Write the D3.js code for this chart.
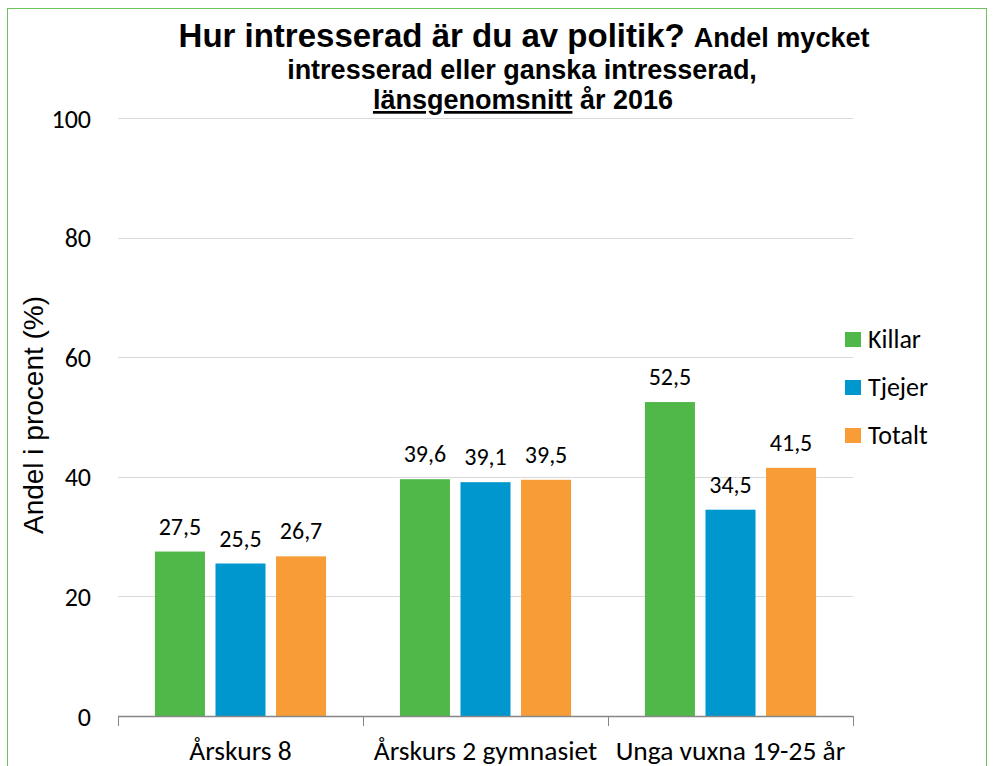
<!DOCTYPE html>
<html>
<head>
<meta charset="utf-8">
<script src="https://cdn.jsdelivr.net/npm/d3@7"></script>
<style>
  body { margin: 0; background: #fff; }
  svg { display: block; }
</style>
</head>
<body>
<div id="chart"></div>
<script>
// Data
const categories = ['Årskurs 8', 'Årskurs 2 gymnasiet', 'Unga vuxna 19-25 år'];
const seriesNames = ['Killar', 'Tjejer', 'Totalt'];
const killar = [27.5, 39.6, 52.5];
const tjejer = [25.5, 39.1, 34.5];
const totalt = [26.7, 39.5, 41.5];
const yTicks = [0, 20, 40, 60, 80, 100];
const colors = ['#50B848', '#0097CE', '#F79C36'];

const values = [killar, tjejer, totalt];
const rows = categories.map((c, i) => ({
    cat: c,
    vals: seriesNames.map((s, j) => ({ key: s, value: values[j][i], color: colors[j] }))
}));

const width = 995, height = 766;
const margin = { left: 118, right: 142, top: 118, bottom: 50 };
const calibri = 'Carlito, Lato, "Open Sans", sans-serif';
const arial = '"Liberation Sans", Arial, sans-serif';

const svg = d3.select('#chart').append('svg')
    .attr('width', width)
    .attr('height', height);

// outer border
svg.append('rect')
    .attr('x', 7.5).attr('y', 8.5)
    .attr('width', 979).attr('height', 780)
    .attr('fill', 'none')
    .attr('stroke', '#6CC35E')
    .attr('stroke-width', 1);

const x0 = d3.scaleBand()
    .domain(categories)
    .range([margin.left, width - margin.right]);

const x1 = d3.scaleBand()
    .domain(seriesNames)
    .range([0, x0.bandwidth()])
    .paddingInner(0.174)
    .paddingOuter(0.61);

const y = d3.scaleLinear()
    .domain([0, 100])
    .range([height - margin.bottom, margin.top]);

// gridlines
svg.append('g')
    .selectAll('line')
    .data(yTicks.filter(d => d > 0))
    .join('line')
    .attr('x1', margin.left).attr('x2', width - margin.right)
    .attr('y1', d => Math.round(y(d)) + 0.5).attr('y2', d => Math.round(y(d)) + 0.5)
    .attr('stroke', '#D9D9D9')
    .attr('stroke-width', 1);

// y tick labels
svg.append('g')
    .selectAll('text')
    .data(yTicks)
    .join('text')
    .attr('x', 91)
    .attr('y', d => y(d) + 9.5)
    .attr('text-anchor', 'end')
    .attr('font-family', calibri)
    .attr('font-size', 26)
    .attr('fill', '#000')
    .text(d => d);

// bars
const groups = svg.append('g')
    .selectAll('g')
    .data(rows)
    .join('g')
    .attr('transform', d => `translate(${x0(d.cat)},0)`);

groups.selectAll('rect')
    .data(d => d.vals)
    .join('rect')
    .attr('x', d => x1(d.key))
    .attr('width', x1.bandwidth())
    .attr('y', d => y(d.value))
    .attr('height', d => y(0) - y(d.value))
    .attr('fill', d => d.color);

groups.selectAll('text')
    .data(d => d.vals)
    .join('text')
    .attr('x', d => x1(d.key) + x1.bandwidth() / 2)
    .attr('y', d => y(d.value) - 17)
    .attr('text-anchor', 'middle')
    .attr('font-family', calibri)
    .attr('font-size', 24)
    .attr('fill', '#000')
    .text(d => d3.format('.1f')(d.value).replace('.', ','));

// x axis
const xAxis = svg.append('g')
    .attr('transform', `translate(0,${y(0)})`);
xAxis.append('line')
    .attr('x1', margin.left).attr('x2', width - margin.right)
    .attr('y1', 0.5).attr('y2', 0.5)
    .attr('stroke', '#868686')
    .attr('stroke-width', 1.5);
const bounds = categories.map(c => x0(c)).concat([width - margin.right]);
xAxis.selectAll('.tick')
    .data(bounds)
    .join('line')
    .attr('x1', d => Math.round(d) + 0.5).attr('x2', d => Math.round(d) + 0.5)
    .attr('y1', 0).attr('y2', 10)
    .attr('stroke', '#868686');
xAxis.selectAll('text')
    .data(categories)
    .join('text')
    .attr('x', d => x0(d) + x0.bandwidth() / 2)
    .attr('y', 44)
    .attr('text-anchor', 'middle')
    .attr('font-family', calibri)
    .attr('font-size', 27.5)
    .attr('fill', '#000')
    .text(d => d);

// y axis title
svg.append('text')
    .attr('transform', 'translate(43,415) rotate(-90)')
    .attr('text-anchor', 'middle')
    .attr('font-family', arial)
    .attr('font-size', 28)
    .attr('fill', '#000')
    .text('Andel i procent (%)');

// title
const title = svg.append('text')
    .attr('text-anchor', 'middle')
    .attr('font-family', arial)
    .attr('font-weight', 'bold')
    .attr('fill', '#000');
const t1 = title.append('tspan').attr('x', 524).attr('y', 47);
t1.append('tspan').attr('font-size', 33).text('Hur intresserad är du av politik? ');
t1.append('tspan').attr('font-size', 27).text('Andel mycket');
title.append('tspan').attr('x', 522).attr('y', 79).attr('font-size', 27)
    .text('intresserad eller ganska intresserad,');
const t3 = title.append('tspan').attr('x', 523).attr('y', 109).attr('font-size', 27);
t3.append('tspan').attr('text-decoration', 'underline').text('länsgenomsnitt');
t3.append('tspan').text(' år 2016');

// legend
const legend = svg.append('g')
    .selectAll('g')
    .data(seriesNames)
    .join('g')
    .attr('transform', (d, i) => `translate(845,${332 + i * 48})`);
legend.append('rect')
    .attr('width', 16).attr('height', 15)
    .attr('y', 0)
    .attr('fill', (d, i) => colors[i]);
legend.append('text')
    .attr('x', 23).attr('y', 16)
    .attr('font-family', calibri)
    .attr('font-size', 26)
    .attr('fill', '#000')
    .text(d => d);
</script>
</body>
</html>
